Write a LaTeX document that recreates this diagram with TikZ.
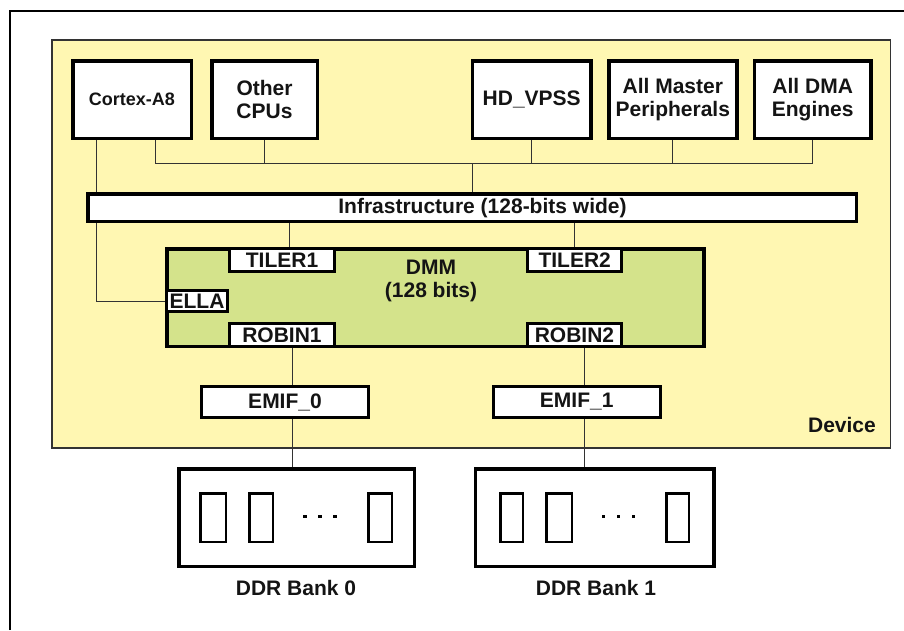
\documentclass[tikz,border=0pt]{standalone}
\usepackage{fontspec}
\setmainfont{Liberation Sans}
\definecolor{devyel}{HTML}{FFF7B2}
\definecolor{dmmgreen}{HTML}{D4E38B}
\definecolor{txt}{HTML}{141414}
\definecolor{linec}{HTML}{333333}
\begin{document}
\begin{tikzpicture}[x=1pt,y=-1pt,
  blk/.style={draw=black, line width=3.5pt, fill=white, inner sep=0pt, align=center,
    font=\fontsize{21}{23}\selectfont\bfseries, text=txt},
  port/.style={blk, line width=3pt},
  conn/.style={draw=linec, line width=1pt},
  chip/.style={draw=black, line width=2.5pt, fill=white},
  lbl/.style={inner sep=0pt, font=\fontsize{21}{23}\selectfont\bfseries, text=txt, align=center},
  dot/.style={fill=black, draw=none}]
\useasboundingbox (0,0) rectangle (904,630);
% outer frame (clipped by the page)
\draw[line width=1.5pt, black] (10,630) -- (10,11) -- (904,11);
% device
\draw[fill=devyel, draw=linec, line width=1.5pt] (52,40) rectangle (890.7,448);
\node[lbl, anchor=east] (device) at (876,425) {Device};
% masters
\node[blk, minimum width=118.5, minimum height=77.5, font=\fontsize{18}{20}\selectfont\bfseries] (cortex) at (132,99.5) {Cortex-A8};
\node[blk, minimum width=105.5, minimum height=77.5] (other) at (264.5,99.5) {Other\\CPUs};
\node[blk, minimum width=118.5, minimum height=77.5] (hd) at (531.7,99.5) {HD\_VPSS};
\node[blk, minimum width=128, minimum height=77.5] (amp) at (672.8,99.5) {All Master\\Peripherals};
\node[blk, minimum width=116.5, minimum height=77.5] (dma) at (812.7,99.5) {All DMA\\Engines};
% infrastructure
\node[blk, minimum width=768.5, minimum height=27.5] (infra) at (472,207.5) {};
\node[lbl] (infratxt) at (482.5,208) {Infrastructure (128-bits wide)};
% DMM
\node[blk, fill=dmmgreen, minimum width=537, minimum height=97.5] (dmm) at (435.3,297.5) {};
\node[lbl] (dmmtxt) at (431,281) {DMM\\(128 bits)};
\node[port, minimum width=105, minimum height=23] (tiler1) at (282,260) {TILER1};
\node[port, minimum width=94.3, minimum height=23] (tiler2) at (574.7,260) {TILER2};
\node[port, minimum width=61, minimum height=21] (ella) at (197,301) {ELLA};
\node[port, minimum width=105, minimum height=23] (robin1) at (282,335) {ROBIN1};
\node[port, minimum width=94, minimum height=23] (robin2) at (574.5,335) {ROBIN2};
% EMIFs
\node[port, minimum width=167, minimum height=31] (emif0) at (285,402) {EMIF\_0};
\node[port, minimum width=167, minimum height=31] (emif1) at (576.7,402) {EMIF\_1};
% DDR banks
\node[blk, minimum width=235.5, minimum height=97.5] (ddr0) at (296.5,517.5) {};
\node[blk, minimum width=238.2, minimum height=97.5] (ddr1) at (594.8,517.5) {};
\node[lbl, anchor=north] (ddr0lbl) at (296,580) {DDR Bank 0};
\node[lbl, anchor=north] (ddr1lbl) at (596,580) {DDR Bank 1};
% memory chips
\foreach \a/\b in {199/227, 248/274, 367/393, 499/524, 545/573, 665/690}
  \draw[chip] (\a+1.25,493.25) rectangle (\b-1.25,541.75);
\foreach \x in {305,320,335,603.3,618.3,633.3}
  \fill[dot] (\x-1.6,515.1) rectangle (\x+1.6,518.3);
% bus
\coordinate (busL) at (155,163);
\coordinate (busR) at (812.7,163);
\draw[conn] (busL) -- (busR);
\draw[conn] (cortex.south -| busL) -- (busL);
\draw[conn] (other.south) -- (other.south |- busL);
\draw[conn] (hd.south) -- (hd.south |- busL);
\draw[conn] (amp.south) -- (amp.south |- busL);
\draw[conn] (dma.south) -- (busR);
\draw[conn] (infra.north |- busL) -- (infra.north);
% Cortex-A8 direct path to ELLA
\coordinate (ellaCorner) at (96,301);
\draw[conn] (cortex.south -| ellaCorner) -- (infra.north -| ellaCorner);
\draw[conn] (infra.south -| ellaCorner) -- (ellaCorner) -- (ella.west);
% infra to TILERs
\draw[conn] (infra.south -| 289,0) -- ([xshift=7]tiler1.north);
\draw[conn] (infra.south -| tiler2.north) -- (tiler2.north);
% ROBIN to EMIF to DDR
\coordinate (p0) at (292,0);
\coordinate (p1) at (584,0);
\draw[conn] (robin1.south -| p0) -- (emif0.north -| p0);
\draw[conn] (emif0.south -| p0) -- (ddr0.north -| p0);
\draw[conn] (robin2.south -| p1) -- (emif1.north -| p1);
\draw[conn] (emif1.south -| p1) -- (ddr1.north -| p1);
\end{tikzpicture}
\end{document}
